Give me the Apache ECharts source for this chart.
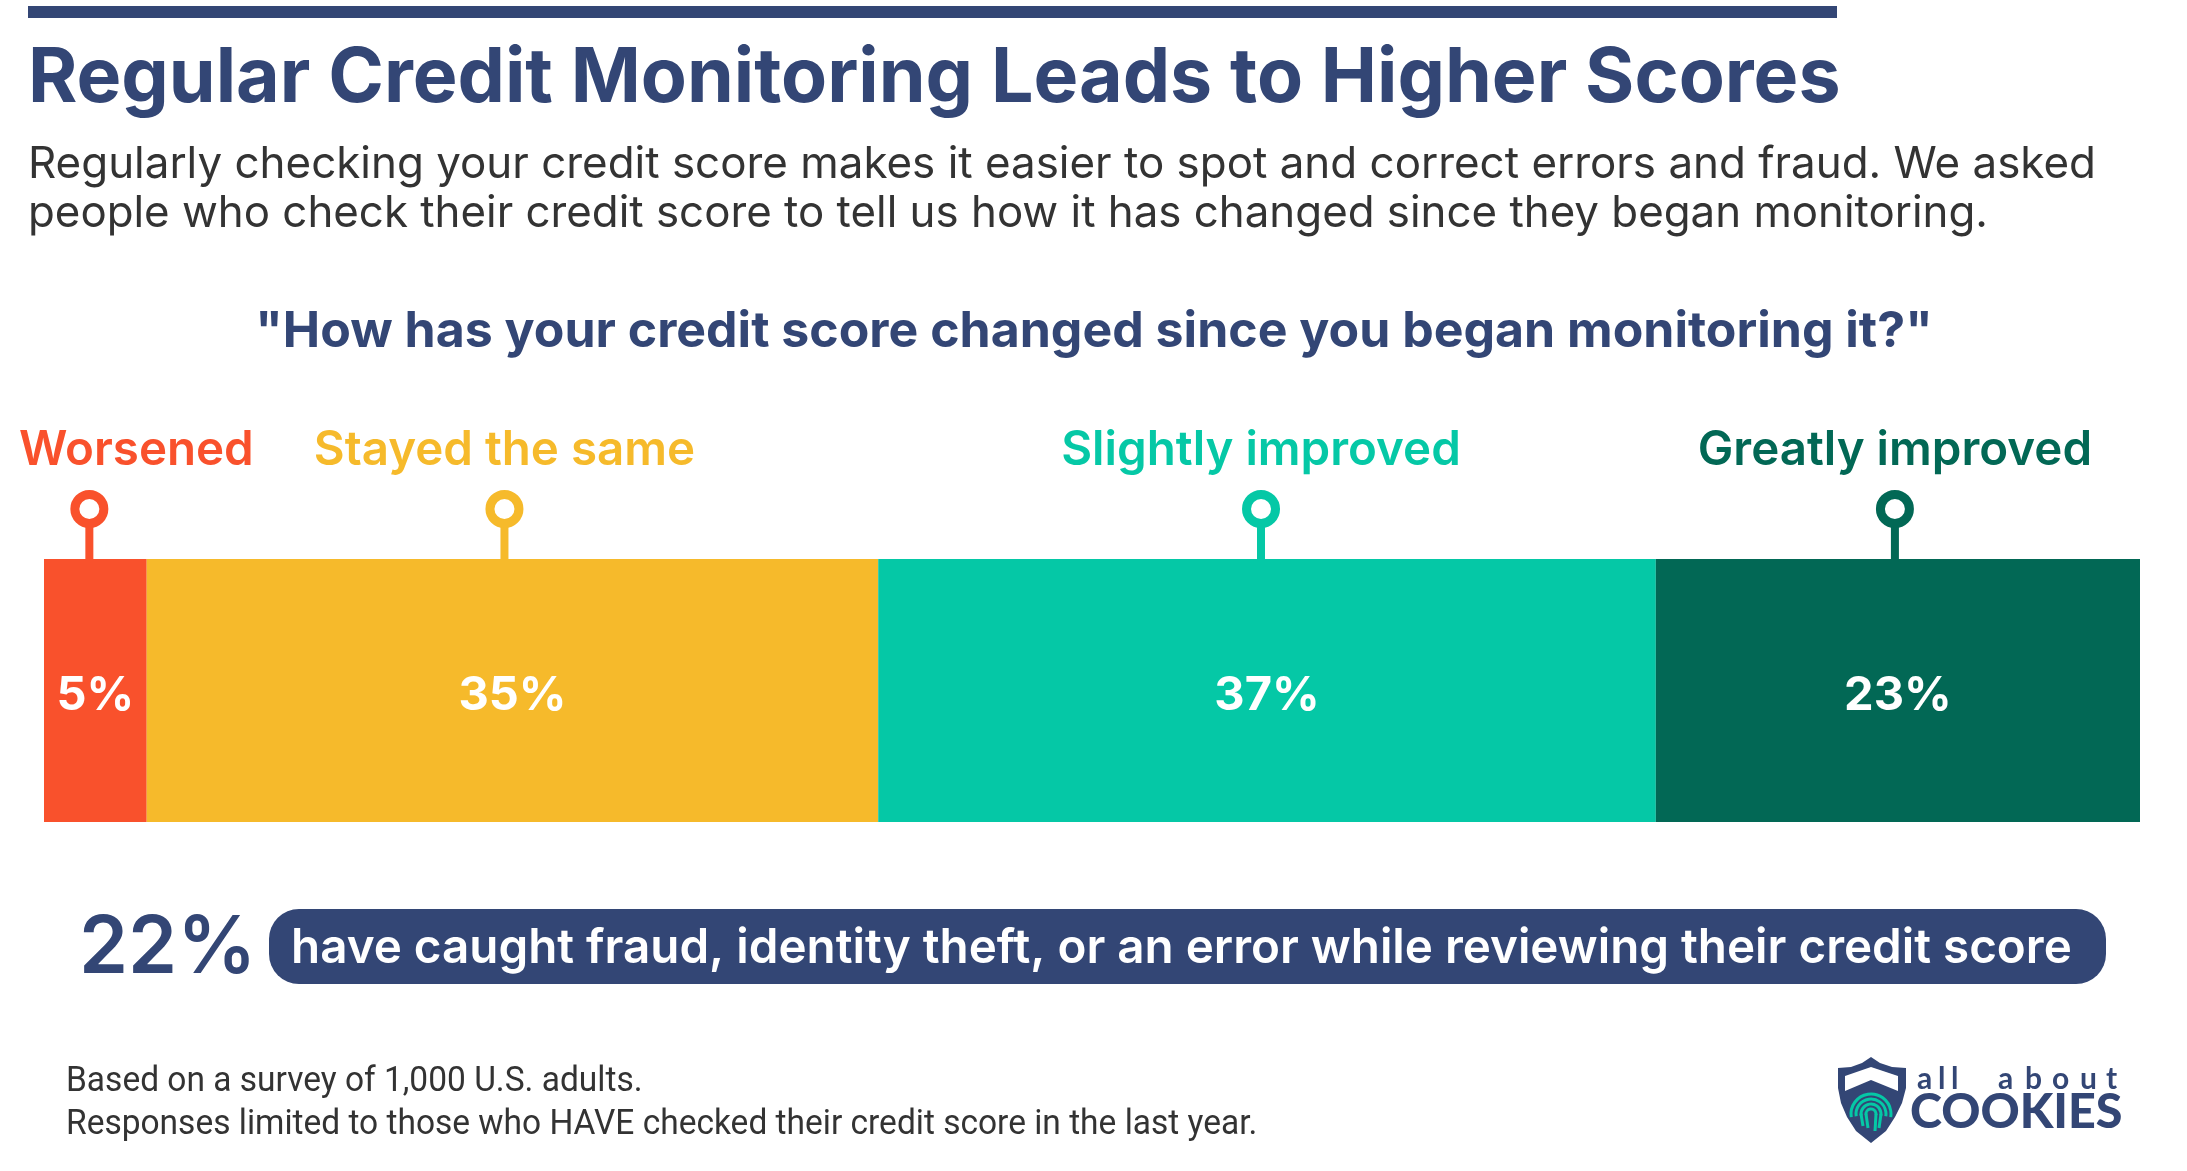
<!DOCTYPE html>
<html>
<head>
<meta charset="utf-8">
<style>
  html, body { margin: 0; padding: 0; background: #fff; }
  #chart { width: 2187px; height: 1171px; }
</style>
<script src="https://cdn.jsdelivr.net/npm/echarts@6/dist/echarts.min.js"></script>
</head>
<body>
<div id="chart"></div>
<script>
// data, segment widths (labels print them rounded)
var categories = ['Worsened', 'Stayed the same', 'Slightly improved', 'Greatly improved'];
var shares = [4.9, 34.9, 37.1, 23.1];
var colors = ['#F9512C', '#F6BA2B', '#05C8A6', '#026855'];

// texts
var titleText = 'Regular Credit Monitoring Leads to Higher Scores';
var introLines = [
  'Regularly checking your credit score makes it easier to spot and correct errors and fraud. We asked',
  'people who check their credit score to tell us how it has changed since they began monitoring.'
];
var questionText = '"How has your credit score changed since you began monitoring it?"';
var calloutValue = '22%';
var calloutText = 'have caught fraud, identity theft, or an error while reviewing their credit score';
var footLines = [
  'Based on a survey of 1,000 U.S. adults.',
  'Responses limited to those who HAVE checked their credit score in the last year.'
];

var navy = '#334675';
var grey = '#333333';

// pin and label nudges from the middle of each segment, px
var pinNudge = [-6, -8, -6, -3];
var labelNudge = [47, 0, 0, 0];

function txt(text, x, base, size, weight, fill, extra) {
  extra = extra || {};
  return {
    type: 'text',
    silent: true,
    x: x,
    y: base - size * 0.36,
    originX: 0,
    originY: 0,
    scaleX: extra.scaleX || 1,
    style: {
      text: text,
      fill: fill,
      fontFamily: extra.family || 'Inter',
      fontSize: size,
      fontWeight: weight,
      align: extra.align || 'left',
      verticalAlign: 'middle'
    }
  };
}

// logo bits
function logo() {
  var out = [];
  out.push({
    type: 'polygon', silent: true,
    shape: {
      points: [[1871, 1057], [1862, 1063], [1851, 1067], [1838, 1068], [1838, 1088], [1841, 1103], [1847, 1117],
        [1856, 1131], [1871, 1143], [1886, 1131], [1895, 1117], [1902, 1103], [1906, 1088], [1906, 1068],
        [1892, 1067], [1880, 1063]]
    },
    style: { fill: navy }
  });
  out.push({
    type: 'polygon', silent: true,
    shape: { points: [[1845, 1076], [1871, 1067], [1898, 1076], [1898, 1091], [1871, 1080], [1845, 1091]] },
    style: { fill: '#fff' }
  });
  [5, 10, 15, 20].forEach(function (r) {
    out.push({
      type: 'arc', silent: true,
      shape: { cx: 1871, cy: 1114, r: r, startAngle: Math.PI * 0.95, endAngle: Math.PI * 2.05, clockwise: true },
      style: { stroke: '#05C8A6', lineWidth: 3, fill: 'none' }
    });
  });
  [[1866, 1114, 1868, 1128], [1876, 1114, 1875, 1131], [1861, 1114, 1863, 1126], [1881, 1114, 1879, 1128]].forEach(function (p) {
    out.push({
      type: 'line', silent: true,
      shape: { x1: p[0], y1: p[1], x2: p[2], y2: p[3] },
      style: { stroke: '#05C8A6', lineWidth: 3 }
    });
  });
  out.push(txt('COOKIES', 1910, 1130, 47, 900, navy, { family: 'Lato', scaleX: 1.03 }));
  // "all about" is widely spaced, one letter at a time
  var word = 'all about'.split('');
  var xs = [1917, 1938, 1951, 0, 1998, 2025, 2052, 2080, 2106];
  word.forEach(function (c, i) {
    if (c !== ' ') out.push(txt(c, xs[i], 1090, 30, 700, navy, { family: 'Lato' }));
  });
  return out;
}

var graphics = [
  { type: 'rect', silent: true, shape: { x: 28, y: 6, width: 1809, height: 12 }, style: { fill: navy } },
  txt(titleText, 28, 107, 76, 700, navy, { scaleX: 0.99 }),
  txt(introLines[0], 28, 181, 44, 400, grey, { scaleX: 0.998 }),
  txt(introLines[1], 28, 230, 44, 400, grey, { scaleX: 0.996 }),
  txt(questionText, 1094, 350, 50, 700, navy, { align: 'center' }),
  txt(calloutValue, 79, 978, 80, 600, navy, { scaleX: 0.985 }),
  { type: 'rect', silent: true, shape: { x: 269, y: 909, width: 1837, height: 75, r: 30 }, style: { fill: navy } },
  txt(calloutText, 291, 966, 48, 600, '#fff', { scaleX: 0.991 }),
  txt(footLines[0], 66, 1095, 35, 400, grey, { family: 'Roboto', scaleX: 0.957 }),
  txt(footLines[1], 66, 1138, 35, 400, grey, { family: 'Roboto', scaleX: 0.957 })
].concat(logo());

// stacked bar segments
var barSeries = categories.map(function (name, i) {
  return {
    name: name,
    type: 'bar',
    stack: 'total',
    barWidth: '100%',
    silent: true,
    data: [shares[i]],
    itemStyle: { color: colors[i] },
    label: {
      show: true,
      position: 'inside',
      offset: [0, 5],
      formatter: function (p) { return Math.round(p.value) + '%'; },
      color: '#fff',
      fontFamily: 'Inter',
      fontWeight: 700,
      fontSize: 47
    }
  };
});

// middle of each stacked segment, in share units
var pinData = shares.map(function (v, i) {
  var before = 0;
  for (var k = 0; k < i; k++) before += shares[k];
  return [before + v / 2, 0, i];
});

var pinSeries = {
  type: 'custom',
  silent: true,
  clip: false,
  z: 5,
  data: pinData,
  encode: { x: 0, y: 1 },
  renderItem: function (params, api) {
    var i = api.value(2);
    var top = params.coordSys.y;
    var x = api.coord([api.value(0), 0])[0] + pinNudge[i];
    return {
      type: 'group',
      children: [
        { type: 'line', shape: { x1: x, y1: top, x2: x, y2: top - 36 }, style: { stroke: colors[i], lineWidth: 8 } },
        { type: 'circle', shape: { cx: x, cy: top - 50, r: 14.5 }, style: { fill: '#fff', stroke: colors[i], lineWidth: 9 } },
        {
          type: 'text',
          x: x + labelNudge[i],
          y: top - 91 - 47.5 * 0.36,
          style: {
            text: categories[i],
            fill: colors[i],
            fontFamily: 'Inter',
            fontWeight: 600,
            fontSize: 47.5,
            align: 'center',
            verticalAlign: 'middle'
          }
        }
      ]
    };
  }
};

var chart = echarts.init(document.getElementById('chart'));
chart.setOption({
  animation: false,
  backgroundColor: '#fff',
  grid: { left: 44, top: 559, width: 2096, height: 263 },
  xAxis: { type: 'value', min: 0, max: 100, show: false },
  yAxis: { type: 'category', data: ['share'], show: false },
  graphic: graphics,
  series: barSeries.concat([pinSeries])
});
</script>
</body>
</html>
